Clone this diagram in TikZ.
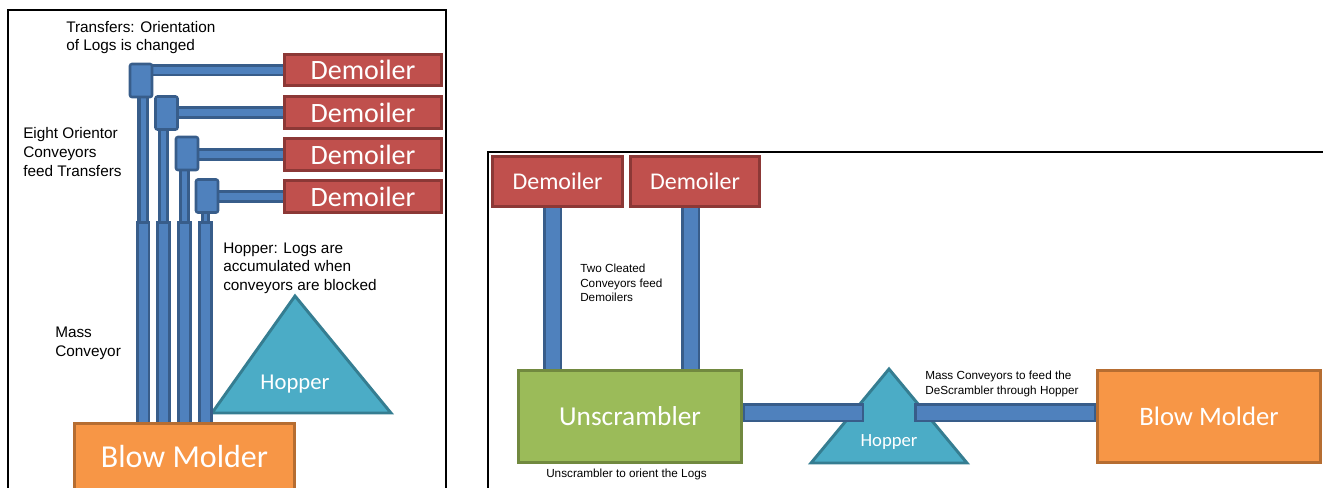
\documentclass[tikz,border=0pt]{standalone}
\usepackage{fontspec}
\setmainfont{Liberation Sans}
\newfontfamily\shapefont{Carlito}
\usetikzlibrary{calc,backgrounds}
\definecolor{demf}{HTML}{C0504D}
\definecolor{demb}{HTML}{8C3836}
\definecolor{convf}{HTML}{4F81BD}
\definecolor{convb}{HTML}{385D8A}
\definecolor{grnf}{HTML}{9BBB59}
\definecolor{grnb}{HTML}{71893F}
\definecolor{orf}{HTML}{F79646}
\definecolor{orb}{HTML}{B66D31}
\definecolor{tealf}{HTML}{4BACC6}
\definecolor{tealb}{HTML}{357D91}
\begin{document}
\begin{tikzpicture}[x=0.75pt,y=-0.75pt,
  box/.style={rectangle, inner sep=0pt, line width=2.2pt, text=white},
  dem/.style={box, fill=demf, draw=demb},
  demL/.style={dem, minimum width=118pt, minimum height=23.5pt, font=\shapefont\fontsize{21}{24}\selectfont},
  demR/.style={dem, minimum width=97pt, minimum height=37.5pt, font=\shapefont\fontsize{18}{21}\selectfont},
  xfer/.style={rectangle, rounded corners=1.5pt, fill=convf, draw=convb, line width=1.9pt, minimum width=16.5pt, minimum height=24.75pt, inner sep=0pt},
  bigbox/.style={box, minimum width=167.25pt, minimum height=69pt, font=\shapefont\fontsize{20.5}{24}\selectfont},
  hop/.style={fill=tealf, draw=tealb, line width=2.2pt, line join=miter},
  hoptext/.style={text=white, inner sep=0pt},
  convH/.style={draw=convb, line width=1.9pt, double=convf, double distance=5.25pt},
  orient/.style={draw=convb, line width=2.6pt, double=convf, double distance=3.75pt},
  orientS/.style={draw=convb, line width=1.9pt, double=convf, double distance=2.25pt},
  mass/.style={draw=convb, line width=1.9pt, double=convf, double distance=6.75pt, line cap=rect, shorten <=5.25pt},
  convR/.style={draw=convb, line width=1.9pt, double=convf, double distance=10.5pt},
  convRc/.style={convR, line cap=rect, shorten <=7.125pt, shorten >=7.125pt},
  ann/.style={anchor=west, align=left, inner sep=0pt, font=\fontsize{11.5}{14}\selectfont},
  annS/.style={anchor=west, align=left, inner sep=0pt, font=\fontsize{8.8}{10.9}\selectfont},
  frame/.style={draw=black, line width=2.2pt}
]
\useasboundingbox (0,0) rectangle (1323,487);

% ---------- left panel ----------
\draw[frame] (8,495) -- (8,10) -- (446,10) -- (446,495);

\node[demL] (d1) at (363,70) {Demoiler};
\node[demL] (d2) at (363,112.5) {Demoiler};
\node[demL] (d3) at (363,154.5) {Demoiler};
\node[demL] (d4) at (363,196.5) {Demoiler};

\node[xfer] (t1) at (141,80.5) {};
\node[xfer] (t2) at (166.5,113) {};
\node[xfer] (t3) at (187,153.5) {};
\node[xfer] (t4) at (207,196) {};

\node[box, fill=orf, draw=orb, minimum width=165pt, minimum height=49.9pt,
      font=\shapefont\fontsize{24}{28}\selectfont] (bmL) at (184.5,456.75) {Blow Molder};

\node[hoptext, font=\shapefont\fontsize{17}{20}\selectfont] (hopL) at (295,384) {Hopper};

\coordinate (c1) at (143,221);
\coordinate (c2) at (163.5,221);
\coordinate (c3) at (184.5,221);
\coordinate (c4) at (205.5,221);

\begin{scope}[on background layer]
  \draw[hop] (295,296) -- (391,413) -- (212,413) -- cycle;
  \draw[convH] (t1.center |- d1.west) -- (d1.west);
  \draw[convH] (t2.center |- d2.west) -- (d2.west);
  \draw[convH] (t3.center |- d3.west) -- (d3.west);
  \draw[convH] (t4.center |- d4.west) -- (d4.west);
  \draw[orient] (t1.south -| c1) -- (c1);
  \draw[orient] (t2.south -| c2) -- (c2);
  \draw[orient] (t3.south -| c3) -- (c3);
  \draw[orientS] (t4.south -| c4) -- (c4);
  \draw[mass] (c1) -- (c1 |- bmL.north);
  \draw[mass] (c2) -- (c2 |- bmL.north);
  \draw[mass] (c3) -- (c3 |- bmL.north);
  \draw[mass] (c4) -- (c4 |- bmL.north);
\end{scope}

\node[ann] (lt1) at (66,37.5) {Transfers: Orientation\\of Logs is changed};
\node[ann] (lt2) at (23,152) {Eight Orientor\\Conveyors\\feed Transfers};
\node[ann] (lt3) at (223,268) {Hopper: Logs are\\accumulated when\\conveyors are blocked};
\node[ann] (lt4) at (55,343.5) {Mass\\Conveyor};

% ---------- right panel ----------
\draw[frame] (488,495) -- (488,152) -- (1330,152);

\node[demR] (da) at (557.5,181.5) {Demoiler};
\node[demR] (db) at (695,181.5) {Demoiler};
\node[bigbox, fill=grnf, draw=grnb] (u) at (630,416.5) {Unscrambler};
\node[bigbox, fill=orf, draw=orb, font=\shapefont\fontsize{20}{24}\selectfont] (bmR) at (1209,416.5) {Blow Molder};
\node[hoptext, font=\shapefont\fontsize{14}{17}\selectfont] (hopR) at (889,442) {Hopper};

\coordinate (ca) at (552.5,0);
\coordinate (cb) at (690.5,0);
\coordinate (hin) at (864,412.5);
\coordinate (hout) at (914,412.5);

\begin{scope}[on background layer]
  \draw[hop] (889,369) -- (967,463) -- (811,463) -- cycle;
  \draw[convR] (da.south -| ca) -- (u.north -| ca);
  \draw[convR] (db.south -| cb) -- (u.north -| cb);
  \draw[convRc] (u.east |- hin) -- (hin);
  \draw[convRc] (hout) -- (hout -| bmR.west);
\end{scope}

\node[annS] (rt1) at (580,283) {Two Cleated\\Conveyors feed\\Demoilers};
\node[annS] (rt2) at (925,384) {Mass Conveyors to feed the\\DeScrambler through Hopper};
\node[annS] (rt3) at (546,474) {Unscrambler to orient the Logs};
\end{tikzpicture}
\end{document}
